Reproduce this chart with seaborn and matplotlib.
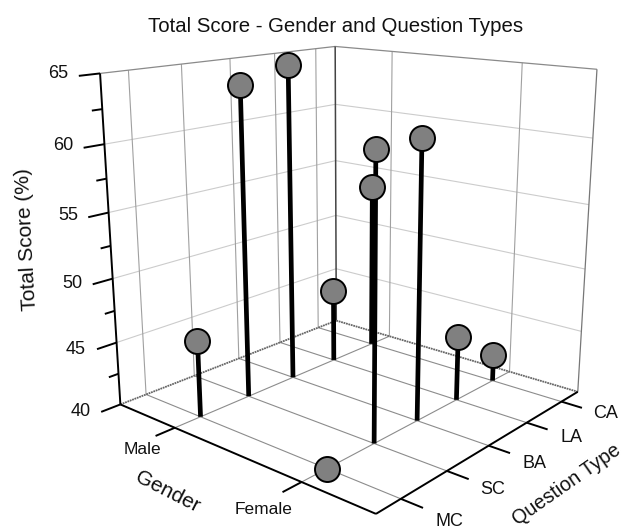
import numpy as np
import matplotlib
matplotlib.use("Agg")
import matplotlib.pyplot as plt
import seaborn as sns

# Data
genders = ["Male", "Female"]
question_types = ["MC", "SC", "BA", "LA", "CA"]
male_scores = [46.0, 64.0, 65.0, 46.1, 54.0]
female_scores = [40.0, 60.9, 61.0, 45.1, 42.2]
z_ticks = [40, 45, 50, 55, 60, 65]
z_minor = [42.5, 47.5, 52.5, 57.5, 62.5]

# where the tick labels sit on the page, in pixels from the top left
z_label_pos = [(81, 412), (76, 349), (72, 283), (68, 216), (63, 146), (58, 73)]
gender_label_pos = [(142, 450), (264, 509)]
question_label_pos = [(449, 521), (493, 489), (534, 463), (571, 437), (606, 414)]

sns.set_theme(style="white")
plt.rcParams["font.family"] = ["Liberation Sans", "DejaVu Sans"]

fig = plt.figure(figsize=(6.3, 5.29), dpi=100)
ax = fig.add_axes([60.4 / 630, -4.2 / 529, 568.2 / 630, 568.2 / 529], projection="3d")
ax.set_axis_off()
ax.computed_zorder = False
ax.set_xlim(0.5, 2.5)
ax.set_ylim(0.5, 5.5)
ax.set_zlim(40, 65)
ax.set_box_aspect((1, 0.985, 0.996))
ax.set_proj_type("persp", focal_length=0.36)
ax.view_init(15.666, -49.334)

x0, x1, y0, y1, z0, z1 = 0.5, 2.5, 0.5, 5.5, 40, 65
gx = np.arange(len(genders)) + 1
qy = np.arange(len(question_types)) + 1

def seg(a, b, **kw):
    ax.plot([a[0], b[0]], [a[1], b[1]], [a[2], b[2]], solid_capstyle="butt", **kw)

def page_text(px, py, s, **kw):
    fig.text(px / 630, 1 - py / 529, s, ha="center", va="center", color="#111111", **kw)

wall_h = dict(color="#cccccc", lw=0.8, zorder=1)
wall_v = dict(color="#a0a0a0", lw=0.8, zorder=1)
floor = dict(color="#8c8c8c", lw=0.8, zorder=1)

# grid on the two walls and the floor
for z in z_ticks[1:-1]:
    seg((x0, y0, z), (x0, y1, z), **wall_h)
    seg((x0, y1, z), (x1, y1, z), **wall_h)
for y in qy:
    seg((x0, y, z0), (x0, y, z1), **wall_v)
    seg((x0, y, z0), (x1, y, z0), **floor)
for x in gx:
    seg((x, y1, z0), (x, y1, z1), **wall_v)
    seg((x, y0, z0), (x, y1, z0), **floor)

# box edges
seg((x0, y0, z1), (x0, y1, z1), color="#8a8a8a", lw=0.9, zorder=2)
seg((x0, y1, z1), (x1, y1, z1), color="#8a8a8a", lw=0.9, zorder=2)
seg((x1, y1, z0), (x1, y1, z1), color="#777777", lw=0.9, zorder=2)
seg((x0, y1, z0), (x0, y1, z1), color="#444444", lw=1.1, zorder=2)
seg((x0, y0, z0), (x0, y1, z0), color="#666666", lw=1.3, ls=(0, (1, 0.4)), zorder=2)
seg((x0, y1, z0), (x1, y1, z0), color="#666666", lw=1.3, ls=(0, (1, 0.4)), zorder=2)

axis = dict(color="black", lw=1.4, zorder=3)
seg((x0, y0, z0), (x0, y0, z1), **axis)
seg((x0, y0, z0), (x1, y0, z0), **axis)
seg((x1, y0, z0), (x1, y1, z0), **axis)

# ticks and their labels
for z, pos in zip(z_ticks, z_label_pos):
    seg((x0, y0, z), (x0, y0 - 0.36, z), **axis)
    page_text(pos[0], pos[1], str(z), fontsize=13)
for z in z_minor:
    seg((x0, y0, z), (x0, y0 - 0.18, z), **axis)
for x, name, pos in zip(gx, genders, gender_label_pos):
    seg((x, y0, z0), (x, y0 - 0.36, z0), **axis)
    page_text(pos[0], pos[1], name, fontsize=12.5)
for y, name, pos in zip(qy, question_types, question_label_pos):
    seg((x1, y, z0), (x1 + 0.14, y, z0), **axis)
    page_text(pos[0], pos[1], name, fontsize=13)

# stems and markers
for x, scores in zip(gx, [male_scores, female_scores]):
    for y, s in zip(qy, scores):
        seg((x, y, z0), (x, y, s), color="black", lw=3.4, zorder=5)
for x, scores in zip(gx, [male_scores, female_scores]):
    ax.plot([x] * len(qy), qy, scores, ls="none", marker="o", ms=18, mfc="#808080",
            mec="black", mew=1.4, zorder=6)

page_text(336, 27, "Total Score - Gender and Question Types", fontsize=14.7)
page_text(27, 239, "Total Score (%)", rotation=93, fontsize=15)
page_text(168, 492, "Gender", rotation=-27, fontsize=15)
page_text(567, 485, "Question Type", rotation=35, fontsize=14.2)

fig.savefig("out.png", dpi=100)
